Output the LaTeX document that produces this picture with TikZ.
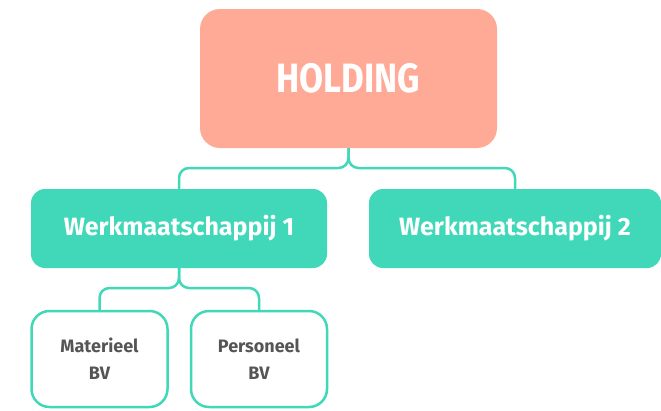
\documentclass[tikz,border=0pt]{standalone}
\usepackage{fontspec}
\setmainfont{Fira Sans}
\newfontfamily\condfont{Fira Sans}[FakeStretch=0.85]
\usetikzlibrary{calc}
\definecolor{salmon}{HTML}{FFAA96}
\definecolor{teal}{HTML}{40D8B8}
\definecolor{txtgray}{HTML}{555555}
\tikzset{
  holdbox/.style={rectangle, rounded corners=20pt, fill=salmon, minimum width=297pt, minimum height=139pt, inner sep=0pt,
    text=white, font=\condfont\fontsize{41}{41}\selectfont\bfseries},
  wbox/.style={rectangle, rounded corners=14pt, fill=teal, minimum height=79pt, inner sep=0pt,
    text=white, font=\fontsize{25}{25}\selectfont\bfseries},
  bvbox/.style={rectangle, rounded corners=18pt, draw=teal, line width=2.5pt, fill=white, minimum width=136pt, minimum height=96pt, inner sep=0pt,
    text=txtgray, align=center, font=\fontsize{18}{27}\selectfont\bfseries},
  conn/.style={draw=teal, line width=2.5pt, rounded corners=10pt}
}
\begin{document}
\begin{tikzpicture}[x=1pt,y=-1pt]
\useasboundingbox (0,0) rectangle (661,410);
\node[holdbox] (H) at (348.5,78.5) {HOLDING};
\node[wbox, minimum width=296pt] (W1) at (179,228.5) {Werkmaatschappij 1};
\node[wbox, minimum width=292pt] (W2) at (515,228.5) {Werkmaatschappij 2};
\node[bvbox] (M) at (99.5,359) {Materieel\\BV};
\node[bvbox] (P) at (259,359) {Personeel\\BV};
\coordinate (bus1) at (0,168);
\coordinate (bus2) at (0,288);
\draw[conn] (H.south) |- (W1.north |- bus1) -- (W1.north);
\draw[conn] (H.south) |- (W2.north |- bus1) -- (W2.north);
\draw[conn] (W1.south) |- (M.north |- bus2) -- (M.north);
\draw[conn] (W1.south) |- (P.north |- bus2) -- (P.north);
\end{tikzpicture}
\end{document}
